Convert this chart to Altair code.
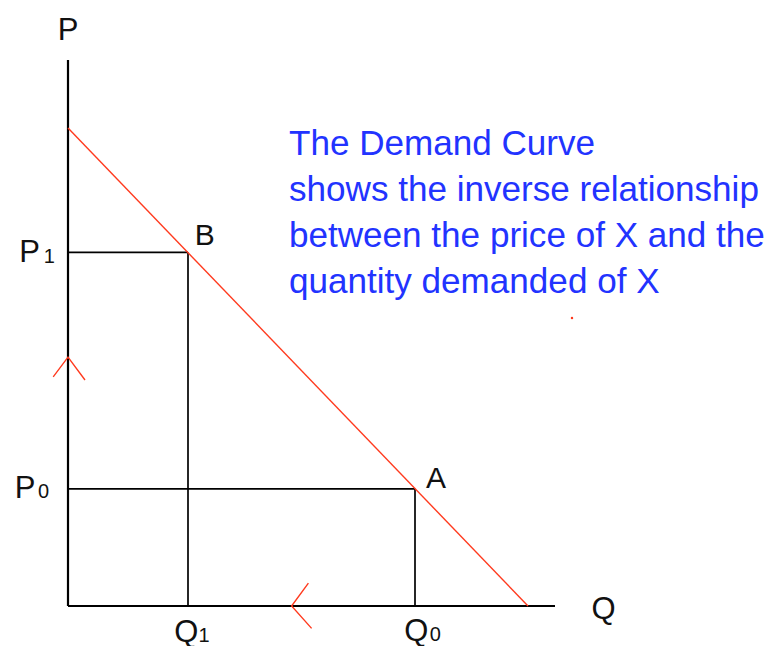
import altair as alt
import pandas as pd

FONT = "Liberation Sans"

# Economic diagram values (Q, P units; 1 unit = 40 px)
demand_q = [0.0, 11.5]
demand_p = [11.95, 0.0]
point_names = ["B", "A"]
point_q = [3.0, 8.675]
point_p = [8.84, 2.93]
axis_top_p = 13.65
axis_right_q = 12.175

# black segments: axes + guides to the axes
seg_q1 = [0.0, 0.0, 0.0, point_q[0], 0.0, point_q[1]]
seg_p1 = [0.0, 0.0, point_p[0], point_p[0], point_p[1], point_p[1]]
seg_q2 = [0.0, axis_right_q, point_q[0], point_q[0], point_q[1], point_q[1]]
seg_p2 = [axis_top_p, 0.0, point_p[0], 0.0, point_p[1], 0.0]
seg_w = [2.2, 2.2, 1.7, 1.7, 1.7, 1.7]

# red arrow strokes
arrow_id = [0, 0, 0, 1, 1, 1]
arrow_ord = [0, 1, 2, 0, 1, 2]
arrow_q = [-0.37, 0.0, 0.425, 6.01, 5.59, 6.09]
arrow_p = [5.73, 6.22, 5.65, 0.57, 0.0, -0.56]

dot_q = [12.6]
dot_p = [7.2]

# labels
lab_text = ["P", "Q", "P", "1", "P", "0", "Q", "1", "Q", "0", "B", "A"]
lab_q = [0.0, 13.39, -0.96, -0.47, -1.075, -0.61, 2.96, 3.40, 8.71, 9.18, 3.42, 9.2]
lab_p = [14.15, -0.33, 8.6, 8.575, 2.7, 2.7, -0.89, -0.89, -0.88, -0.88, 9.025, 2.95]
lab_size = [31, 31, 31, 20, 31, 20, 31, 20, 31, 20, 30, 30]

note_lines = ["The Demand Curve", "shows the inverse relationship",
              "between the price of X and the", "quantity demanded of X"]
note_q = [5.525]
note_p = [11.275]

W, H = 757, 638
xs = alt.Scale(domain=[-1.5, -1.5 + W / 40], nice=False, zero=False)
ys = alt.Scale(domain=[14.95 - H / 40, 14.95], nice=False, zero=False)

segs = pd.DataFrame({"q1": seg_q1, "p1": seg_p1, "q2": seg_q2, "p2": seg_p2, "w": seg_w})
dem = pd.DataFrame({"q1": [demand_q[0]], "p1": [demand_p[0]], "q2": [demand_q[1]], "p2": [demand_p[1]]})
arr = pd.DataFrame({"id": arrow_id, "o": arrow_ord, "q": arrow_q, "p": arrow_p})
dot = pd.DataFrame({"q": dot_q, "p": dot_p})
labs = pd.DataFrame({"t": lab_text, "q": lab_q, "p": lab_p, "s": lab_size})
note = pd.DataFrame({"q": note_q, "p": note_p, "t": [note_lines]})

X = lambda f: alt.X(f, type="quantitative", scale=xs, axis=None)
Y = lambda f: alt.Y(f, type="quantitative", scale=ys, axis=None)

black = alt.Chart(segs).mark_rule(color="#000000", strokeCap="butt").encode(
    x=X("q1"), y=Y("p1"), x2="q2", y2="p2",
    strokeWidth=alt.StrokeWidth("w:Q", scale=None, legend=None))

demand = alt.Chart(dem).mark_rule(color="#ff3a1e", strokeWidth=1.4).encode(
    x=X("q1"), y=Y("p1"), x2="q2", y2="p2")

arrows = alt.Chart(arr).mark_line(color="#ff3a1e", strokeWidth=1.4).encode(
    x=X("q"), y=Y("p"), detail="id:N", order="o:Q")

reddot = alt.Chart(dot).mark_point(filled=True, color="#ff3a1e", size=6, opacity=1).encode(
    x=X("q"), y=Y("p"))

labels = alt.Chart(labs).mark_text(font=FONT, color="#111111", align="center",
                                   baseline="alphabetic").encode(
    x=X("q"), y=Y("p"), text="t:N",
    size=alt.Size("s:Q", scale=None, legend=None))

notes = alt.Chart(note).mark_text(font=FONT, color="#2233ff", fontSize=35.1, align="left",
                                  baseline="alphabetic", lineHeight=46).encode(
    x=X("q"), y=Y("p"), text="t")

chart = alt.layer(black, demand, arrows, reddot, labels, notes).properties(
    width=W, height=H, padding=0, autosize=alt.AutoSizeParams(type="none"),
    background="white"
).configure_view(stroke=None)

chart.save("out.html", embed_options={"renderer": "svg", "actions": False})
